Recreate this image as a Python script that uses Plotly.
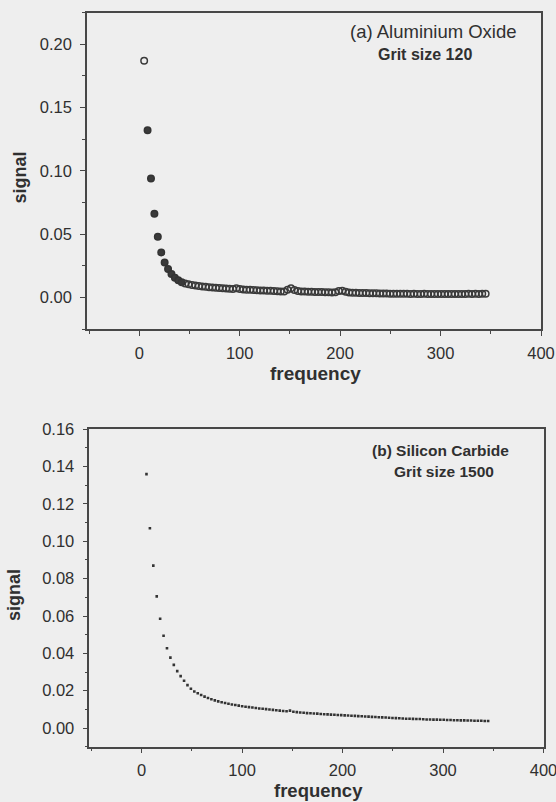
import plotly.graph_objects as go

# ---------------- data ----------------
frequency = [4.9, 8.3, 11.7, 15.1, 18.5, 21.9, 25.3, 28.7, 32.1, 35.5,
             38.9, 42.3, 45.7, 49.1, 52.5, 55.9, 59.3, 62.7, 66.1, 69.5,
             72.9, 76.3, 79.7, 83.1, 86.5, 89.9, 93.3, 96.7, 100.1, 103.5,
             106.9, 110.3, 113.7, 117.1, 120.5, 123.9, 127.3, 130.7, 134.1, 137.5,
             140.9, 144.3, 147.7, 151.1, 154.5, 157.9, 161.3, 164.7, 168.1, 171.5,
             174.9, 178.3, 181.7, 185.1, 188.5, 191.9, 195.3, 198.7, 202.1, 205.5,
             208.9, 212.3, 215.7, 219.1, 222.5, 225.9, 229.3, 232.7, 236.1, 239.5,
             242.9, 246.3, 249.7, 253.1, 256.5, 259.9, 263.3, 266.7, 270.1, 273.5,
             276.9, 280.3, 283.7, 287.1, 290.5, 293.9, 297.3, 300.7, 304.1, 307.5,
             310.9, 314.3, 317.7, 321.1, 324.5, 327.9, 331.3, 334.7, 338.1, 341.5,
             344.9]

signal_aluminium = [0.187, 0.132, 0.094, 0.066, 0.048, 0.0355, 0.0275, 0.0225, 0.0185, 0.0155,
                    0.0135, 0.0120, 0.0110, 0.0103, 0.0097, 0.0093, 0.0089, 0.0086, 0.0083, 0.0080,
                    0.0078, 0.0076, 0.0074, 0.0072, 0.0070, 0.0068, 0.0067, 0.0072, 0.0066, 0.0063,
                    0.0061, 0.0060, 0.0058, 0.0057, 0.0055, 0.0054, 0.0053, 0.0052, 0.0050, 0.0049,
                    0.0047, 0.0046, 0.0060, 0.0072, 0.0058, 0.0050, 0.0047, 0.0046, 0.0045, 0.0044,
                    0.0043, 0.0043, 0.0042, 0.0041, 0.0040, 0.0039, 0.0040, 0.0050, 0.0053, 0.0045,
                    0.0039, 0.0037, 0.0036, 0.0035, 0.0035, 0.0034, 0.0033, 0.0033, 0.0032, 0.0031,
                    0.0031, 0.0030, 0.0029, 0.0029, 0.0028, 0.0028, 0.0029, 0.0028, 0.0027, 0.0028,
                    0.0027, 0.0027, 0.0028, 0.0027, 0.0026, 0.0027, 0.0027, 0.0026, 0.0027, 0.0026,
                    0.0027, 0.0026, 0.0027, 0.0026, 0.0027, 0.0028, 0.0027, 0.0028, 0.0027, 0.0028,
                    0.0028]

signal_silicon = [0.136, 0.107, 0.087, 0.0705, 0.0585, 0.0494, 0.0427, 0.0377, 0.0338, 0.0305,
                  0.0278, 0.0253, 0.0230, 0.0210, 0.0196, 0.0186, 0.0177, 0.0168, 0.0161, 0.0154,
                  0.0148, 0.0143, 0.0138, 0.0134, 0.0130, 0.0126, 0.0123, 0.0120, 0.0117, 0.0114,
                  0.0112, 0.0110, 0.0107, 0.0105, 0.0103, 0.0101, 0.0099, 0.0097, 0.0095, 0.0093,
                  0.0091, 0.0090, 0.0093, 0.0087, 0.0085, 0.0083, 0.0082, 0.0080, 0.0079, 0.0078,
                  0.0077, 0.0075, 0.0074, 0.0073, 0.0072, 0.0071, 0.0070, 0.0069, 0.0068, 0.0067,
                  0.0066, 0.0065, 0.0064, 0.0063, 0.0062, 0.0061, 0.0060, 0.0059, 0.0058, 0.0057,
                  0.0056, 0.0055, 0.0054, 0.0053, 0.0052, 0.0051, 0.0050, 0.0050, 0.0049, 0.0048,
                  0.0048, 0.0047, 0.0046, 0.0046, 0.0045, 0.0045, 0.0044, 0.0044, 0.0043, 0.0043,
                  0.0042, 0.0042, 0.0041, 0.0041, 0.0040, 0.0040, 0.0039, 0.0039, 0.0039, 0.0038,
                  0.0038]

label_a = "(a) Aluminium Oxide"
label_a2 = "Grit size 120"
label_b = "(b) Silicon Carbide"
label_b2 = "Grit size 1500"

x_tickvals = [0, 100, 200, 300, 400]
y1_tickvals = [0.00, 0.05, 0.10, 0.15, 0.20]
y1_ticktext = ["0.00", "0.05", "0.10", "0.15", "0.20"]
y2_tickvals = [0.00, 0.02, 0.04, 0.06, 0.08, 0.10, 0.12, 0.14, 0.16]
y2_ticktext = ["0.00", "0.02", "0.04", "0.06", "0.08", "0.10", "0.12", "0.14", "0.16"]

# ---------------- figure ----------------
W, H = 556, 802
FONT = "Liberation Sans, Arial, sans-serif"
INK = "#303030"
AX = "#474747"
BG = "#eeeeee"

def px_x(p):
    return p / W

def px_y(p):
    return 1 - p / H

n = len(frequency)
sym_a = ["circle-open"] + ["circle"] * 11 + ["circle-open"] * (n - 12)

fig = go.Figure()
fig.add_trace(go.Scatter(
    x=frequency, y=signal_aluminium, mode="markers", xaxis="x", yaxis="y",
    marker=dict(symbol=sym_a, size=6.5, color="#3a3a3a",
                line=dict(color="#333333", width=1.5)),
    showlegend=False))
fig.add_trace(go.Scatter(
    x=frequency, y=signal_silicon, mode="markers", xaxis="x2", yaxis="y2",
    marker=dict(symbol="square", size=2.6, color="#333333", line=dict(width=0)),
    showlegend=False))

axis_common = dict(
    showline=True, linecolor=AX, linewidth=1.5, mirror=True,
    ticks="outside", ticklen=5, tickwidth=1.3, tickcolor=AX,
    showgrid=False, zeroline=False, automargin=False, ticklabeloverflow="allow",
    tickfont=dict(family=FONT, size=16.5, color=INK),
)

fig.update_layout(
    width=W, height=H,
    margin=dict(l=0, r=0, t=0, b=0),
    paper_bgcolor=BG, plot_bgcolor=BG,
    xaxis=dict(domain=[px_x(87), px_x(541)], range=[-52, 400], anchor="y",
               tickvals=x_tickvals, ticklabelstandoff=3,
               minor=dict(dtick=50, tick0=0, ticks="outside", ticklen=3, tickcolor=AX),
               **axis_common),
    yaxis=dict(domain=[px_y(329), px_y(12.7)], range=[-0.025, 0.225], anchor="x",
               tickvals=y1_tickvals, ticktext=y1_ticktext, ticklabelstandoff=5,
               minor=dict(dtick=0.025, tick0=0, ticks="outside", ticklen=3, tickcolor=AX),
               **axis_common),
    xaxis2=dict(domain=[px_x(89.3), px_x(543.5)], range=[-52, 400], anchor="y2",
                tickvals=x_tickvals, ticklabelstandoff=3,
                minor=dict(dtick=50, tick0=0, ticks="outside", ticklen=3, tickcolor=AX),
                **axis_common),
    yaxis2=dict(domain=[px_y(746.7), px_y(429.3)], range=[-0.01, 0.16], anchor="x2",
                tickvals=y2_tickvals, ticktext=y2_ticktext, ticklabelstandoff=5,
                minor=dict(dtick=0.01, tick0=0, ticks="outside", ticklen=3, tickcolor=AX),
                **axis_common),
)

def ann(text, x, y, size, bold=False, angle=0):
    fig.add_annotation(
        text=f"<b>{text}</b>" if bold else text,
        x=px_x(x), y=px_y(y), xref="paper", yref="paper",
        xanchor="center", yanchor="middle", showarrow=False, textangle=angle,
        font=dict(family=FONT, size=size, color=INK))

ann(label_a, 433, 31.7, 18.5)
ann(label_a2, 425.4, 54, 16, bold=True)
ann(label_b, 440.7, 450.7, 15.5, bold=True)
ann(label_b2, 444, 471.7, 15.5, bold=True)

ann("frequency", 315.6, 373.3, 19, bold=True)
ann("frequency", 318, 790, 18.5, bold=True)
ann("signal", 19.5, 178, 18, bold=True, angle=-90)
ann("signal", 14, 595, 18, bold=True, angle=-90)

fig.write_html(
    "out.html",
    config={"displayModeBar": False},
    post_script="document.body.style.margin='0';document.body.style.overflow='hidden';"
                "document.body.style.background='#eeeeee';",
)
